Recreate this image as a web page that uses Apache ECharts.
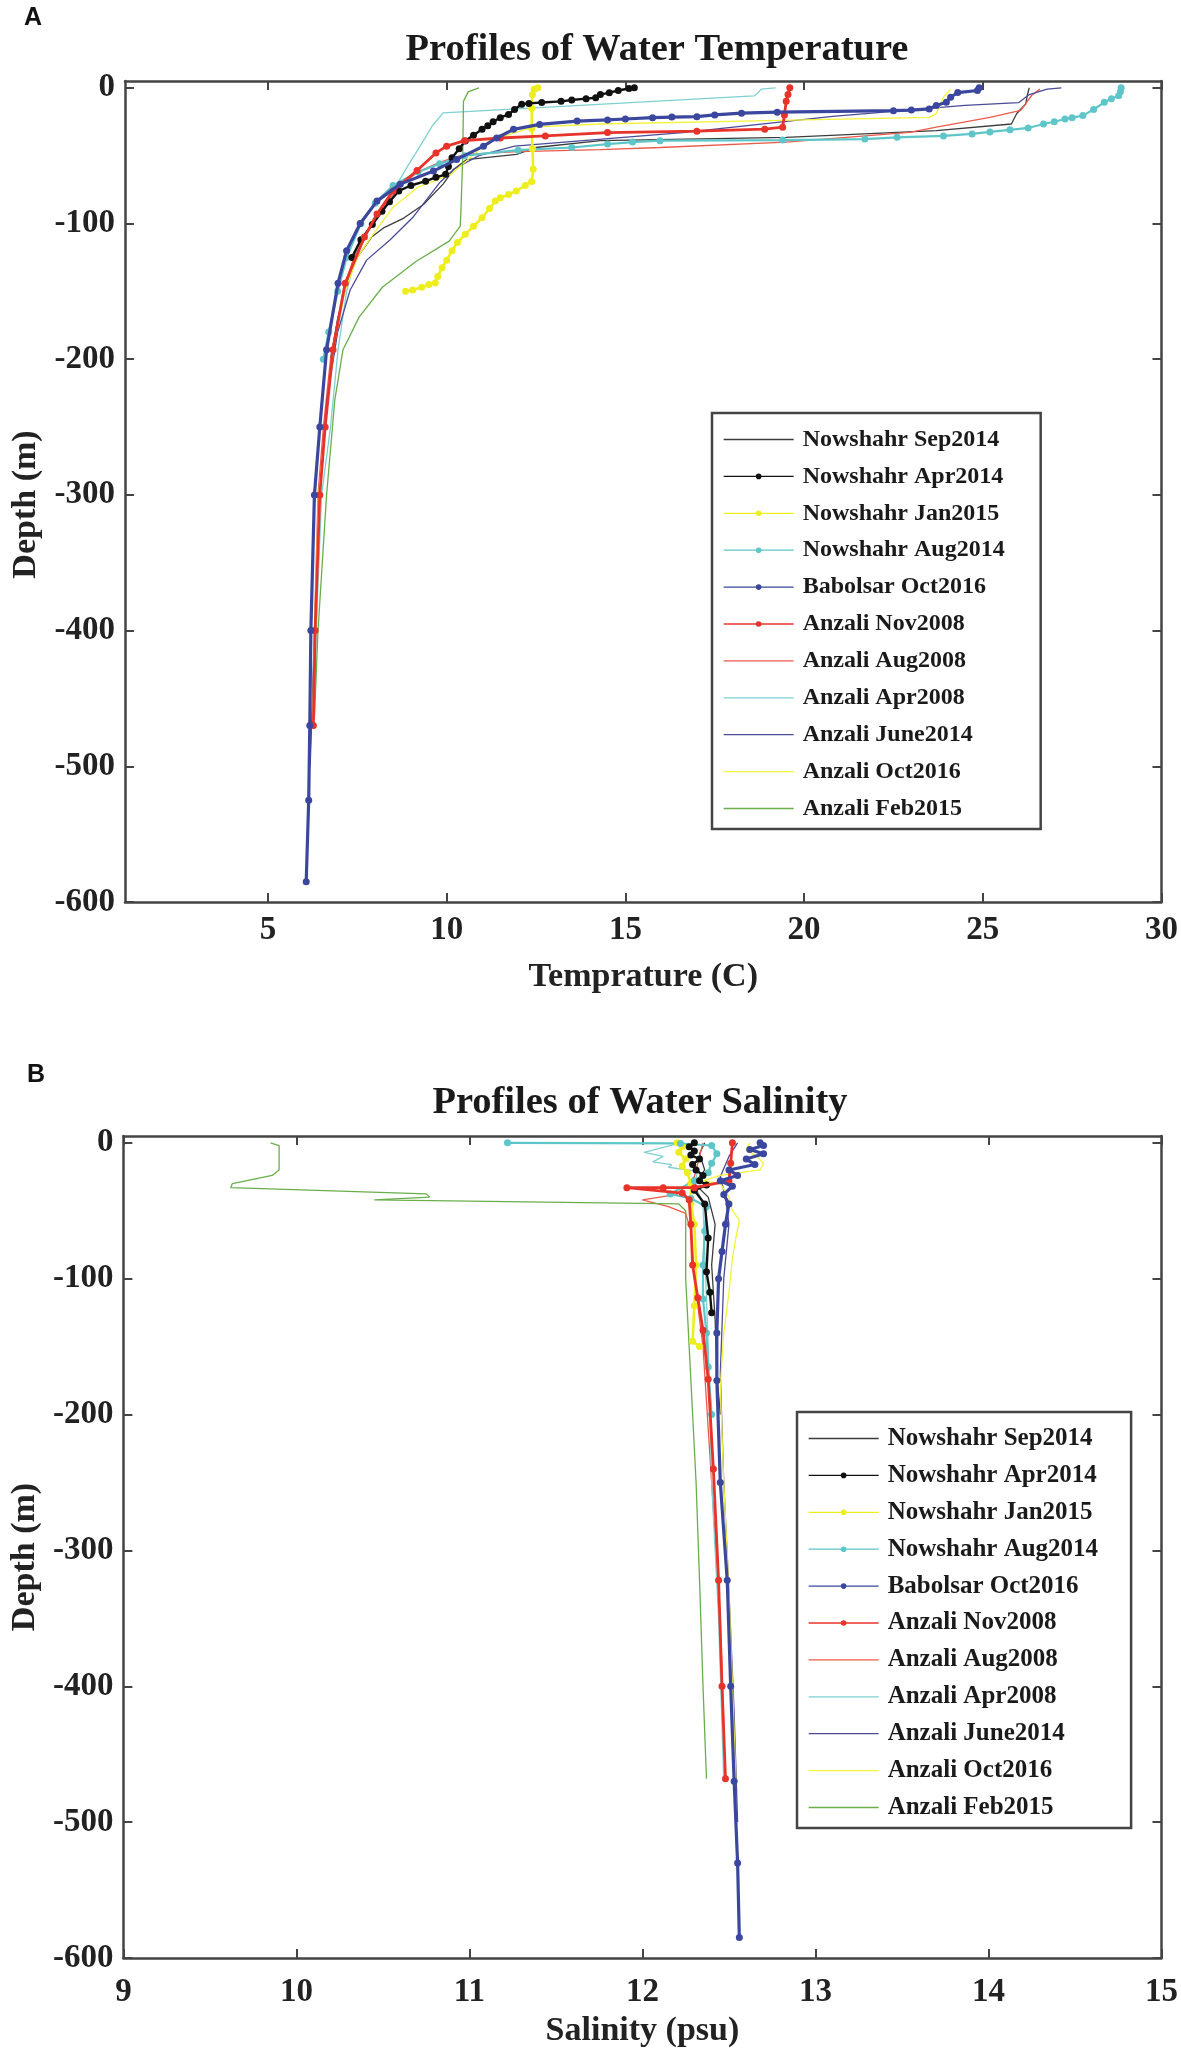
<!DOCTYPE html>
<html>
<head>
<meta charset="utf-8">
<script src="https://cdn.jsdelivr.net/npm/echarts@6/dist/echarts.min.js"></script>
<style>
html,body{margin:0;padding:0;background:#fff;}
#chart{width:1181px;height:2062px;}
</style>
</head>
<body>
<div id="chart"></div>
<script>
// ---------- Names ----------
const seriesNames = ['Nowshahr Sep2014','Nowshahr Apr2014','Nowshahr Jan2015','Nowshahr Aug2014','Babolsar Oct2016',
  'Anzali Nov2008','Anzali Aug2008','Anzali Apr2008','Anzali June2014','Anzali Oct2016','Anzali Feb2015'];

// ---------- Tick labels ----------
const tempTicks = [5,10,15,20,25,30];
const salTicks = [9,10,11,12,13,14,15];
const depthTicks = [-600,-500,-400,-300,-200,-100,0];

// ---------- Temperature profiles [T (C), depth (m)] ----------
const tSep2014 = [[26.3,0],[26.25,-5],[26.2,-12],[25.95,-19],[25.8,-26.7],[23.7,-31.6],[19.5,-36.5],[14.3,-39],[12.5,-44],[11.96,-49],[10.55,-53],[10.2,-60],[9.9,-71],[9.35,-86],[8.8,-96],[8.25,-103],[7.9,-110],[7.5,-125],[7.2,-145],[6.95,-170],[6.75,-200]];
const tApr2014 = [[15.25,0],[15.1,-0.5],[14.8,-2],[14.55,-3.6],[14.3,-5],[14.17,-7.3],[13.9,-8],[13.5,-9],[13.2,-10],[12.66,-10.8],[12.3,-11.5],[12.1,-12.2],[11.9,-16],[11.73,-19.6],[11.5,-22],[11.3,-25],[11.15,-28],[10.99,-30.6],[10.75,-35],[10.52,-39.2],[10.35,-45],[10.15,-51.5],[10.05,-58],[9.97,-63.8],[9.7,-66],[9.41,-68.8],[9.0,-72],[8.66,-76],[8.4,-84],[8.19,-91],[7.92,-100.7],[7.6,-112],[7.35,-125]];
const tJan2015 = [[12.55,0],[12.45,-1],[12.4,-5],[12.38,-15],[12.38,-30],[12.4,-45],[12.42,-60],[12.38,-69],[12.2,-72],[11.95,-76],[11.73,-78.6],[11.5,-81],[11.36,-83.5],[11.2,-89],[10.99,-95.8],[10.75,-102],[10.52,-108],[10.3,-114],[10.15,-120],[10.0,-127],[9.87,-132.7],[9.75,-139],[9.68,-143.8],[9.5,-145],[9.3,-147],[9.05,-149],[8.85,-150]];
const tAug2014 = [[28.87,0],[28.85,-3],[28.8,-5.8],[28.6,-8],[28.4,-10.7],[28.1,-16],[27.8,-20.5],[27.5,-22],[27.3,-23],[27.0,-25],[26.7,-26.7],[26.27,-29.6],[25.76,-31],[25.2,-32.5],[24.7,-34],[23.9,-35.5],[22.6,-36.5],[21.7,-37.8],[19.4,-38.5],[15.97,-39],[15.2,-40],[14.5,-41.5],[13.5,-44],[12.0,-46],[10.5,-50],[9.8,-56],[9.2,-62],[8.5,-72],[8.0,-85],[7.6,-100],[7.2,-125],[6.95,-150],[6.7,-180],[6.55,-200]];
const tOct2016B = [[24.9,0],[24.85,-2],[24.3,-3.5],[24.1,-7],[23.98,-10.7],[23.7,-13],[23.5,-15.6],[23.0,-16.4],[22.5,-16.9],[19.25,-18],[18.25,-18.7],[17.5,-20],[17.0,-21.3],[16.3,-21.6],[15.76,-22],[15.0,-23],[14.5,-23.7],[13.65,-24.5],[12.6,-27],[11.87,-30.6],[11.4,-37],[11.03,-43],[10.28,-52.8],[9.63,-61.4],[8.7,-71],[8.05,-83.5],[7.58,-100],[7.2,-120],[6.96,-144],[6.64,-193],[6.45,-250],[6.3,-300],[6.2,-400],[6.17,-470],[6.14,-525],[6.07,-585]];
const tNov2008 = [[19.6,0],[19.55,-5],[19.5,-10],[19.45,-20],[19.4,-29],[18.9,-30.5],[17.0,-32],[14.5,-33],[12.76,-35.5],[11.5,-37],[10.5,-39],[10.0,-43],[9.7,-48],[9.17,-61],[8.5,-76],[8.05,-93],[7.7,-110],[7.16,-144],[6.82,-193],[6.6,-250],[6.45,-300],[6.32,-400],[6.27,-470]];
const tAug2008 = [[26.6,-1],[26.37,-5.5],[26.06,-16.6],[25.2,-21.8],[23.7,-29],[22.95,-32.8],[19.5,-40],[15.97,-44],[14.3,-45.5],[12.0,-47],[10.5,-49],[9.8,-55],[9.2,-62],[8.8,-70],[8.3,-85],[7.9,-100],[7.4,-125],[7.1,-150],[6.75,-200],[6.55,-250],[6.4,-300],[6.3,-400],[6.25,-470]];
const tApr2008 = [[19.2,0],[18.8,-1],[18.7,-4],[18.6,-6],[9.9,-18.5],[9.6,-28],[9.35,-39],[8.88,-59],[8.5,-76],[7.9,-100],[7.5,-120],[7.2,-150],[6.96,-193],[6.75,-250],[6.5,-300],[6.35,-400],[6.28,-470]];
const tJune2014 = [[27.2,0],[26.8,-1],[26.3,-5],[26.0,-11],[24.5,-13],[20.8,-21],[16.6,-33],[11.9,-43],[10.9,-50],[10.2,-60],[9.8,-70],[9.07,-95],[8.42,-112],[7.76,-127],[7.3,-149],[6.95,-180],[6.65,-230],[6.45,-300],[6.3,-400],[6.22,-470],[6.18,-500]];
const tOct2016A = [[24.1,-1],[23.9,-7],[23.7,-19],[23.5,-21.8],[19.3,-24],[14.3,-26.7],[12.4,-29],[11.2,-39],[10.55,-54],[10.1,-64],[9.17,-73.6],[8.5,-88],[7.94,-108],[7.5,-125],[7.15,-150],[6.85,-190],[6.6,-250],[6.42,-300],[6.3,-400],[6.25,-470]];
const tFeb2015 = [[10.9,0],[10.6,-3],[10.47,-10],[10.45,-50],[10.4,-90],[10.38,-102],[10.07,-113],[9.14,-128],[8.2,-147],[7.55,-169],[7.1,-193],[6.87,-230],[6.64,-300],[6.4,-400],[6.3,-465]];

// ---------- Salinity profiles [S (psu), depth (m)] ----------
const sSep2014 = [[12.36,0],[12.33,-8],[12.36,-20],[12.3,-30],[12.38,-40],[12.42,-60],[12.4,-90],[12.42,-130],[12.43,-170],[12.45,-200]];
const sApr2014 = [[12.3,0],[12.27,-3],[12.3,-6],[12.28,-9],[12.33,-12],[12.29,-16],[12.31,-20],[12.35,-24],[12.33,-28],[12.37,-31],[12.3,-35],[12.36,-45],[12.38,-70],[12.37,-95],[12.39,-110],[12.4,-125]];
const sJan2015 = [[12.2,0],[12.23,-3],[12.21,-7],[12.25,-12],[12.23,-17],[12.26,-22],[12.28,-30],[12.28,-45],[12.3,-60],[12.31,-90],[12.3,-120],[12.29,-146],[12.33,-150]];
const sAug2014 = [[11.22,0],[12.22,-0.5],[12.4,-2],[12.43,-8],[12.4,-15],[12.38,-22],[12.3,-28],[12.16,-37.7],[12.28,-41],[12.37,-47],[12.36,-65],[12.35,-90],[12.35,-115],[12.37,-140],[12.38,-165],[12.4,-200]];
const sOct2016B = [[12.68,0],[12.7,-2],[12.62,-5],[12.7,-8],[12.6,-12],[12.65,-16],[12.5,-20],[12.55,-24],[12.45,-28],[12.52,-32],[12.47,-38],[12.5,-45],[12.48,-60],[12.46,-80],[12.44,-100],[12.43,-140],[12.43,-175],[12.45,-250],[12.49,-322],[12.51,-400],[12.53,-470],[12.55,-530],[12.56,-585]];
const sNov2008 = [[12.52,0],[12.51,-15],[12.5,-28],[12.3,-33],[12.12,-33],[11.91,-33],[12.23,-37],[12.27,-42],[12.28,-60],[12.29,-90],[12.32,-114],[12.35,-138],[12.38,-174],[12.41,-240],[12.44,-322],[12.46,-400],[12.48,-468]];
const sAug2008 = [[12.35,0],[12.33,-10],[12.3,-25],[12.2,-38],[12.0,-42],[12.15,-47],[12.25,-52],[12.28,-65],[12.3,-100],[12.35,-150],[12.4,-250],[12.45,-350],[12.48,-470]];
const sApr2008 = [[12.22,0],[12.01,-7],[12.12,-10],[12.06,-14],[12.17,-16],[12.15,-18],[12.32,-21],[12.3,-30],[12.35,-45],[12.36,-80],[12.38,-150],[12.4,-250],[12.44,-350],[12.47,-470]];
const sJune2014 = [[12.55,0],[12.5,-10],[12.45,-25],[12.48,-40],[12.5,-60],[12.47,-100],[12.45,-170],[12.47,-250],[12.5,-330],[12.53,-420],[12.55,-500]];
const sOct2016A = [[12.62,0],[12.6,-5],[12.66,-10],[12.7,-15],[12.68,-20],[12.45,-24],[12.35,-28],[12.45,-30],[12.5,-40],[12.52,-50],[12.56,-57],[12.54,-70],[12.52,-85],[12.5,-110],[12.47,-140],[12.45,-180],[12.47,-250],[12.5,-330],[12.52,-400],[12.54,-470]];
const sFeb2015 = [[9.85,0],[9.9,-2],[9.9,-20],[9.86,-24],[9.63,-30],[9.62,-33],[10.75,-37.6],[10.77,-40],[10.45,-42],[12.21,-45],[12.25,-50],[12.25,-100],[12.27,-150],[12.28,-175],[12.31,-250],[12.33,-322],[12.35,-400],[12.37,-468]];

const tempData = [tSep2014,tApr2014,tJan2015,tAug2014,tOct2016B,tNov2008,tAug2008,tApr2008,tJune2014,tOct2016A,tFeb2015];
const salData  = [sSep2014,sApr2014,sJan2015,sAug2014,sOct2016B,sNov2008,sAug2008,sApr2008,sJune2014,sOct2016A,sFeb2015];

// ---------- Styles ----------
const colors = ['#3c3c3c','#111111','#eeee1e','#5ec6c9','#3b479e','#e8332b','#ec5a4a','#7fd0d2','#4b4b99','#f3f33a','#6aae4a'];
const markers = [false,true,true,true,true,true,false,false,false,false,false];
const widths = [1.3,2.4,2.6,2.2,3.2,2.8,1.3,1.3,1.3,1.3,1.3];
const zOrder = [3,6,5,5,8,7,3,3,3,3,3];

const serif = 'Liberation Serif';
const axisColor = '#444';

function mkSeries(dataArr, xi, yi) {
  return dataArr.map((d, i) => ({
    name: seriesNames[i],
    type: 'line',
    xAxisIndex: xi, yAxisIndex: yi,
    data: d,
    z: zOrder[i],
    symbol: markers[i] ? 'circle' : 'none',
    showSymbol: markers[i],
    symbolSize: 7,
    itemStyle: {color: colors[i]},
    lineStyle: {color: colors[i], width: widths[i]},
    emphasis: {disabled: true},
    animation: false
  }));
}

function xAxes(min, max, ticks, gridIndex, name, labelMargin, nameGap) {
  return [{
    type: 'value', gridIndex, min, max, position: 'bottom',
    name, nameLocation: 'middle', nameGap,
    nameTextStyle: {fontFamily: serif, fontWeight: 'bold', fontSize: 34, color: '#222'},
    axisLine: {show: true, onZero: false, lineStyle: {color: axisColor, width: 2.5}},
    axisTick: {show: true, inside: true, length: 9, customValues: ticks, lineStyle: {color: axisColor, width: 2}},
    axisLabel: {show: true, customValues: ticks, margin: labelMargin, fontFamily: serif, fontWeight: 'bold', fontSize: 33, color: '#222'},
    splitLine: {show: false}
  }, {
    type: 'value', gridIndex, min, max, position: 'top',
    axisLine: {show: true, onZero: false, lineStyle: {color: axisColor, width: 2.5}},
    axisTick: {show: true, inside: true, length: 9, customValues: ticks, lineStyle: {color: axisColor, width: 2}},
    axisLabel: {show: false},
    splitLine: {show: false}
  }];
}
function yAxes(gridIndex, name, labelMargin, nameGap, namePad) {
  return [{
    type: 'value', gridIndex, min: -600, max: 5, position: 'left',
    name, nameLocation: 'middle', nameGap, nameRotate: 90,
    nameTextStyle: {fontFamily: serif, fontWeight: 'bold', fontSize: 34, color: '#222', padding: [0, namePad, 0, 0]},
    axisLine: {show: true, onZero: false, lineStyle: {color: axisColor, width: 2.5}},
    axisTick: {show: true, inside: true, length: 9, customValues: depthTicks, lineStyle: {color: axisColor, width: 2}},
    axisLabel: {show: true, customValues: depthTicks, margin: labelMargin, fontFamily: serif, fontWeight: 'bold', fontSize: 33, color: '#222'},
    splitLine: {show: false}
  }, {
    type: 'value', gridIndex, min: -600, max: 5, position: 'right',
    axisLine: {show: true, onZero: false, lineStyle: {color: axisColor, width: 2.5}},
    axisTick: {show: true, inside: true, length: 9, customValues: depthTicks, lineStyle: {color: axisColor, width: 2}},
    axisLabel: {show: false},
    splitLine: {show: false}
  }];
}

// legend entries: plain lines for series without markers, thin line + dot for the others
const legendEntries = seriesNames.map((n, i) => markers[i]
  ? {name: n, lineStyle: {width: 1.3}}
  : {name: n, icon: 'path://M0,0 L70,0 L70,1.3 L0,1.3 Z', itemStyle: {color: colors[i], borderWidth: 0}});

function mkLegend(left, top, fontSize, padding) {
  return {
    show: true, orient: 'vertical', left, top,
    data: legendEntries,
    itemWidth: 70, itemHeight: 7, itemGap: 11.9,
    padding,
    borderColor: '#444', borderWidth: 2.5, backgroundColor: '#fff',
    selectedMode: false,
    textStyle: {fontFamily: serif, fontWeight: 'bold', fontSize, color: '#1a1a1a', lineHeight: 25, padding: [0,0,0,4]}
  };
}

const chart = echarts.init(document.getElementById('chart'), null, {renderer: 'canvas', width: 1181, height: 2062});
const option = {
  backgroundColor: '#fff',
  animation: false,
  graphic: [
    {type: 'text', left: 24, top: 6, style: {text: 'A', fontFamily: 'Liberation Sans', fontWeight: 'bold', fontSize: 25, fill: '#111'}},
    {type: 'text', left: 27, top: 1063, style: {text: 'B', fontFamily: 'Liberation Sans', fontWeight: 'bold', fontSize: 25, fill: '#111'}},
    {type: 'text', x: 657, y: 50, style: {text: 'Profiles of Water Temperature', fontFamily: serif, fontWeight: 'bold', fontSize: 38.5, fill: '#1a1a1a', align: 'center', verticalAlign: 'middle'}},
    {type: 'text', x: 640, y: 1103, style: {text: 'Profiles of Water Salinity', fontFamily: serif, fontWeight: 'bold', fontSize: 38.5, fill: '#1a1a1a', align: 'center', verticalAlign: 'middle'}}
  ],
  grid: [
    {left: 125, right: 19, top: 81, height: 821},
    {left: 119, right: 11, top: 1136, height: 822}
  ],
  xAxis: [].concat(
    xAxes(1, 30, tempTicks, 0, 'Temprature (C)', 12, 58),
    xAxes(9, 15, salTicks, 1, 'Salinity (psu)', 18, 56)
  ),
  yAxis: [].concat(
    yAxes(0, 'Depth (m)', 10, 63, 26),
    yAxes(1, 'Depth (m)', 10, 80, 20)
  ),
  legend: [
    mkLegend(712, 413, 24, [14, 36, 8, 11]),
    mkLegend(797, 1412, 25, [14, 33, 8, 11])
  ],
  series: [].concat(mkSeries(tempData, 0, 0), mkSeries(salData, 2, 2))
};
chart.setOption(option);
</script>
</body>
</html>
